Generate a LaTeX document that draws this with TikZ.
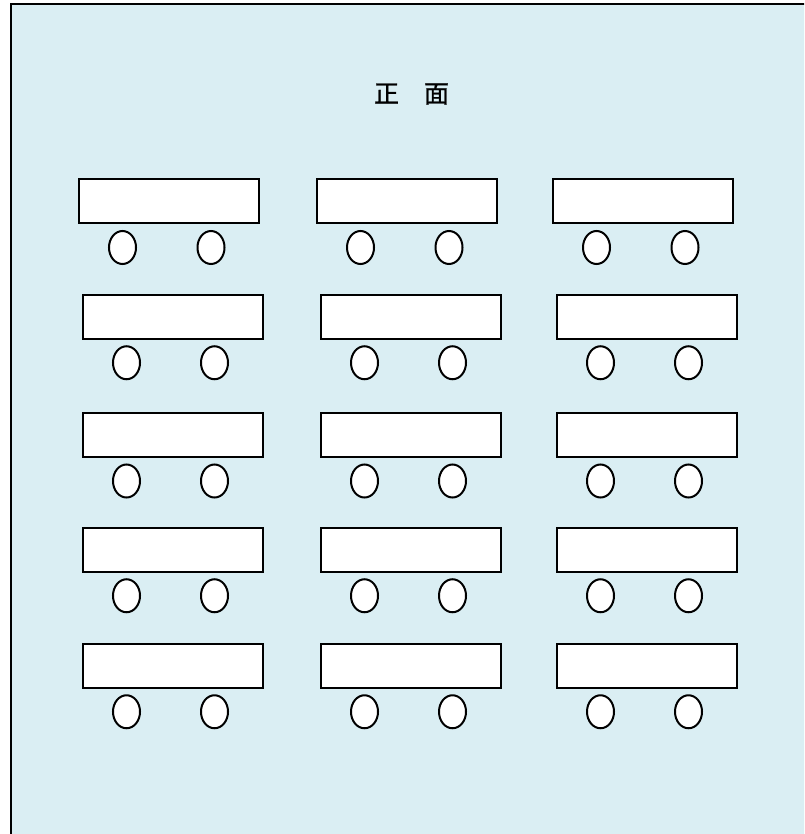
\documentclass[tikz,border=0pt]{standalone}
\usepackage{fontspec}
\newfontfamily\cjk[FakeBold=1]{Noto Sans CJK JP}
\usetikzlibrary{shapes.geometric}
\definecolor{roombg}{HTML}{DAEEF3}
\tikzset{
  desk/.style={draw=black, fill=white, line width=2pt, rectangle, minimum width=180pt, minimum height=43.5pt, inner sep=0pt, outer sep=0pt},
  seat/.style={draw=black, fill=white, line width=2pt, ellipse, minimum width=27pt, minimum height=33pt, inner sep=0pt, outer sep=0pt},
  roomline/.style={draw=black, line width=2pt, fill=roombg}
}
\begin{document}
\begin{tikzpicture}[x=1pt,y=-1pt]
\useasboundingbox (0,0) rectangle (804,834);
\clip (0,0) rectangle (804,834);
\fill[white] (0,0) rectangle (804,834);
\path[roomline] (11,4) rectangle (830,860);
\node[font=\cjk\fontsize{25pt}{25pt}\selectfont, inner sep=0pt] (front) at (411.5,94) {正　面};
% row 1
\foreach \c/\x in {1/169,2/407,3/643}{
  \node[desk] (t-1-\c) at (\x,201.25) {};
  \node[seat] (s-1-\c-a) at (\x-46.5,247.5) {};
  \node[seat] (s-1-\c-b) at (\x+42,247.5) {};
}
% rows 2-5
\foreach \r/\y in {2/316.75,3/435,4/549.75,5/665.75}{
  \foreach \c/\x in {1/173,2/411,3/647}{
    \node[desk] (t-\r-\c) at (\x,\y) {};
    \node[seat] (s-\r-\c-a) at (\x-46.5,\y+46) {};
    \node[seat] (s-\r-\c-b) at (\x+41.5,\y+46) {};
  }
}
\end{tikzpicture}
\end{document}
